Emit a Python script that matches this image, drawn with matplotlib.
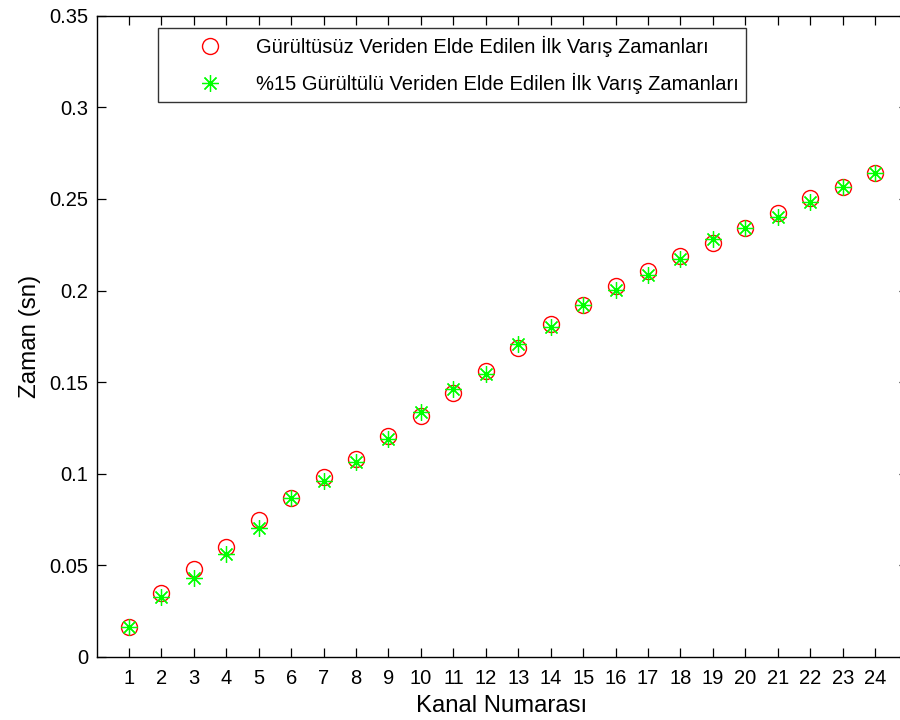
import matplotlib
matplotlib.use("Agg")
import matplotlib.pyplot as plt

plt.rcParams['font.family'] = ['Liberation Sans', 'DejaVu Sans']

# Channel numbers and first-arrival times (s)
kanal = list(range(1, 25))
gurultusuz = [0.0165, 0.0348, 0.0480, 0.0602, 0.0748, 0.0869, 0.0981, 0.1081,
              0.1206, 0.1315, 0.1442, 0.1563, 0.1688, 0.1817, 0.1923, 0.2025,
              0.2105, 0.2188, 0.2261, 0.2341, 0.2425, 0.2505, 0.2567, 0.2640]
gurultulu = [0.0162, 0.0329, 0.0431, 0.0560, 0.0706, 0.0869, 0.0961, 0.1063,
             0.1188, 0.1337, 0.1461, 0.1543, 0.1707, 0.1799, 0.1923, 0.2005,
             0.2086, 0.2171, 0.2280, 0.2341, 0.2403, 0.2483, 0.2567, 0.2640]
y_ticks = [0, 0.05, 0.1, 0.15, 0.2, 0.25, 0.3, 0.35]
y_ticklabels = ['0', '0.05', '0.1', '0.15', '0.2', '0.25', '0.3', '0.35']

label_clean = 'Gürültüsüz Veriden Elde Edilen İlk Varış Zamanları'
label_noisy = '%15 Gürültülü Veriden Elde Edilen İlk Varış Zamanları'

W, H = 900, 720
fig = plt.figure(figsize=(W / 100, H / 100), dpi=100)
left, right, top, bottom = 96.5, 907.6, 15.7, 657.0
ax = fig.add_axes([left / W, 1 - bottom / H, (right - left) / W, (bottom - top) / H])

ax.plot(kanal, gurultusuz, linestyle='none', marker='o', markersize=11.5,
        markerfacecolor='none', markeredgecolor=(1, 0, 0), markeredgewidth=1.0,
        label=label_clean)
ax.plot(kanal, gurultulu, linestyle='none', marker=(8, 2, 0), markersize=12,
        markeredgecolor=(0, 1, 0), markerfacecolor=(0, 1, 0), markeredgewidth=0.9,
        label=label_noisy)

ax.set_xlim(0, 25)
ax.set_ylim(0, 0.35)
ax.set_xticks(kanal)
ax.set_xticklabels([str(k) for k in kanal])
ax.set_yticks(y_ticks)
ax.set_yticklabels(y_ticklabels)

ax.tick_params(direction='in', length=6.5, width=0.9, top=True, right=True,
               labelsize=14.5, colors='black')
ax.tick_params(axis='x', pad=9)
ax.tick_params(axis='y', pad=6)
for s in ax.spines.values():
    s.set_linewidth(1.0)

ax.set_xlabel('Kanal Numarası', fontsize=17.2, labelpad=5)
ax.set_ylabel('Zaman (sn)', fontsize=17.4, labelpad=6)

leg = ax.legend(loc='upper left', bbox_to_anchor=(158 / W, 1 - 28 / H),
                bbox_transform=fig.transFigure, fontsize=14.5, frameon=True,
                fancybox=False, edgecolor='black', borderpad=0.4,
                handlelength=4.4, handletextpad=0.05, labelspacing=0.78,
                borderaxespad=0)
leg.get_frame().set_linewidth(1.0)

fig.savefig('out.png', dpi=100)
